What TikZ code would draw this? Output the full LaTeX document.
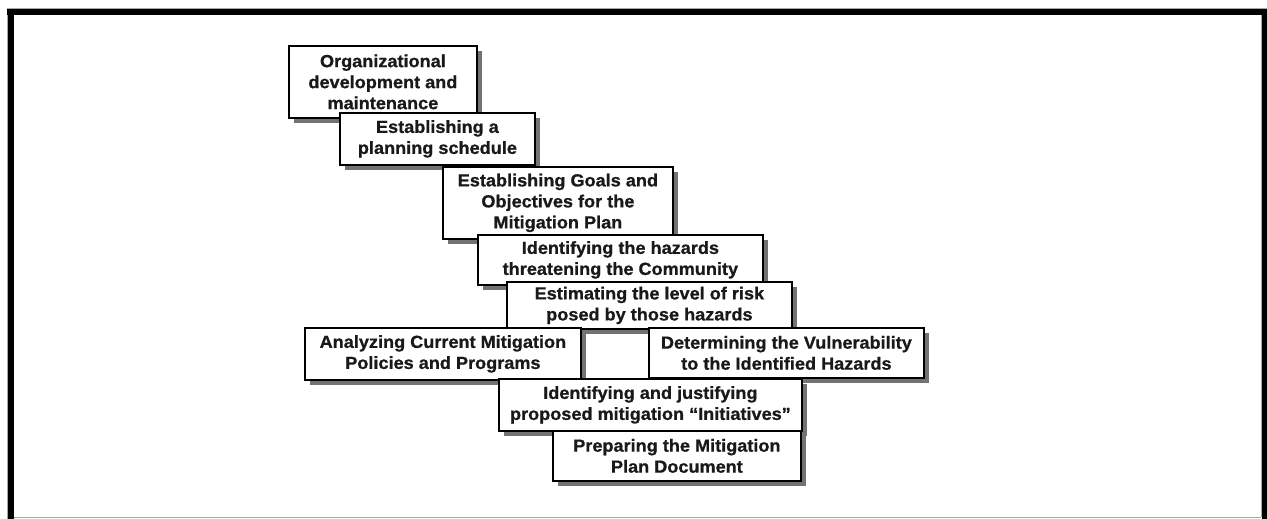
\documentclass[tikz,border=0pt]{standalone}
\usepackage{fontspec}
\setmainfont{Liberation Sans}[FakeStretch=1.035, BoldFeatures={FakeBold=0.8}]
\usetikzlibrary{shadows}
\tikzset{
  stepbox/.style={draw=black, line width=1.8pt, fill=white, inner sep=0pt,
    anchor=north west, align=center, text=black!90,
    font=\fontsize{17.5}{21}\selectfont\bfseries,
    drop shadow={shadow xshift=5pt, shadow yshift=-5pt, fill=black!55, opacity=1}},
  bandblack/.style={fill=black, draw=none},
  thingray/.style={draw=black!35, line width=0.8pt}
}
\begin{document}
\begin{tikzpicture}[x=1pt,y=1pt]
\useasboundingbox (0,0) rectangle (1267,-519);
% frame
\draw[thingray] (7,-8) -- (1267,-8);
\draw[thingray] (7,-8) -- (7,-519);
\fill[bandblack] (7,-9) rectangle (1267,-15);
\fill[bandblack] (8,-9) rectangle (14,-519);
\fill[bandblack] (1262,-9) rectangle (1267,-519);
\draw[thingray] (1261,-15) -- (1261,-517);
\draw[thingray] (14,-517) -- (1261,-517);
% steps
\node[stepbox, minimum width=188pt, minimum height=72pt] (s1) at (288,-45)
  {Organizational\\development and\\maintenance};
\node[stepbox, minimum width=195pt, minimum height=52pt] (s2) at (339,-112)
  {Establishing a\\planning schedule};
\node[stepbox, minimum width=230pt, minimum height=72pt] (s3) at (442,-166)
  {Establishing Goals and\\Objectives for the\\Mitigation Plan};
\node[stepbox, minimum width=285pt, minimum height=50pt] (s4) at (477,-234)
  {Identifying the hazards\\threatening the Community};
\node[stepbox, minimum width=285pt, minimum height=47pt] (s5) at (506,-281)
  {Estimating the level of risk\\posed by those hazards};
\node[stepbox, minimum width=276pt, minimum height=52pt] (s6) at (304,-327)
  {Analyzing Current Mitigation\\Policies and Programs};
\node[stepbox, minimum width=275pt, minimum height=50pt] (s7) at (648,-327)
  {Determining the Vulnerability\\to the Identified Hazards};
\node[stepbox, minimum width=303pt, minimum height=52pt] (s8) at (498,-378)
  {Identifying and justifying\\proposed mitigation “Initiatives”};
\node[stepbox, minimum width=248pt, minimum height=50pt] (s9) at (552,-430)
  {Preparing the Mitigation\\Plan Document};
\end{tikzpicture}
\end{document}
